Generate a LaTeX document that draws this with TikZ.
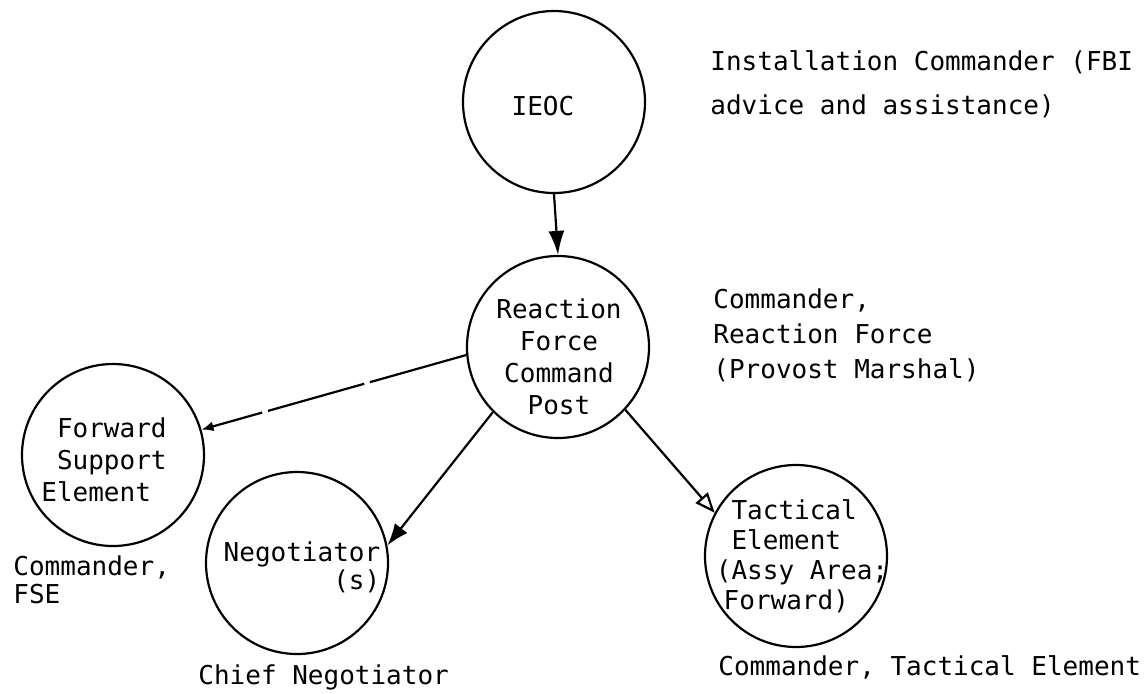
\documentclass[tikz,border=0pt]{standalone}
\usepackage{fontspec}
\setmonofont{DejaVu Sans Mono}
\usetikzlibrary{arrows.meta}
\newcommand\typewr[1]{\ttfamily\fontsize{13}{#1}\selectfont}
\begin{document}
\begin{tikzpicture}[x=0.5pt, y=-0.5pt,
  every node/.style={font=\typewr{16pt}},
  post/.style={circle, draw, line width=1.1pt, minimum size=91pt, inner sep=0pt},
  note/.style={anchor=west, align=left, inner sep=0pt},
  link/.style={line width=1.1pt, -{Latex[length=11pt, width=8pt]}}]
\useasboundingbox (0,0) rectangle (1148,693);
% posts
\node[post] (ieoc) at (554,102) {};
\node[post] (rfcp) at (558,347) {};
\node[post] (fse) at (113,455) {};
\node[post] (neg) at (297,563) {};
\node[post] (tac) at (796,556) {};
% names in the posts
\node (ieocname) at (543,106) {IEOC};
\node[align=center] (rfcpname) at (559,357) {Reaction\\Force\\Command\\Post};
\node[align=left] (fsename) at (104,460) {\phantom{E}Forward\\\phantom{E}Support\\Element};
\node[align=right, font=\typewr{14pt}] (negname) at (302,567) {Negotiator\\(s)};
\node[align=left, font=\typewr{15pt}] (tacname) at (802,556)
  {\phantom{(}Tactical\\\phantom{(}Element\\(Assy Area;\\\hspace*{0.3em}Forward)};
% who commands
\node[note, font=\typewr{22pt}] (ieocwho) at (710,84) {Installation Commander (FBI\\advice and assistance)};
\node[note, font=\typewr{17.5pt}] (rfcpwho) at (713,335) {Commander,\\Reaction Force\\(Provost Marshal)};
\node[note, font=\typewr{14pt}] (fsewho) at (13,580) {Commander,\\FSE};
\node[note] (negwho) at (198,677) {Chief Negotiator};
\node[note] (tacwho) at (718,667) {Commander, Tactical Element};
% links
\draw[link, -{Latex[length=12pt, width=8pt]}] (ieoc.south) -- (rfcp.north);
\draw[link, -{Latex[length=6pt, width=5pt]}, dash pattern=on 50pt off 3pt] (rfcp.185) -- (fse.16);
\draw[link] (rfcp.225) -- (neg.11);
\draw[link, -{Triangle[open, length=10pt, width=8pt]}] (rfcp.317) -- (tac.152);
\end{tikzpicture}
\end{document}
